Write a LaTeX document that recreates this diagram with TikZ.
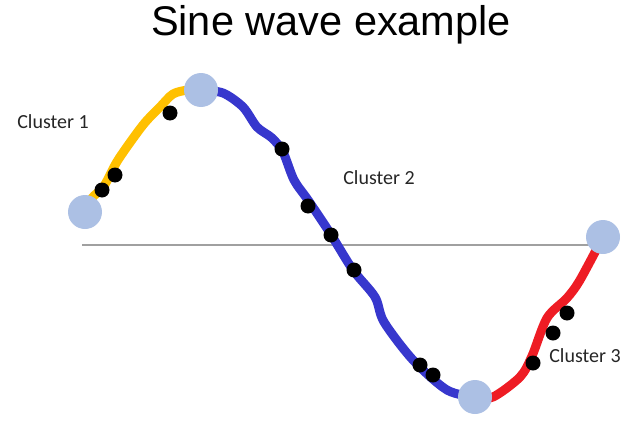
\documentclass[tikz,border=0pt]{standalone}
\usepackage{fontspec}
\setmainfont{Carlito}
\newfontfamily\titlefont{Liberation Sans}
\definecolor{cgold}{RGB}{255,192,0}
\definecolor{cblue}{RGB}{55,55,205}
\definecolor{cred}{RGB}{238,28,36}
\definecolor{cnode}{RGB}{172,192,228}
\definecolor{caxis}{RGB}{160,160,160}
\begin{document}
\begin{tikzpicture}[x=1pt,y=-1pt,
  seg/.style={line width=9pt,line cap=round,line join=round},
  endpt/.style={circle,fill=cnode,minimum size=34pt,inner sep=0pt},
  dot/.style={circle,fill=black,minimum size=15pt,inner sep=0pt},
  lbl/.style={font=\fontsize{20}{23}\selectfont,text=black!85,inner sep=0pt}]
\useasboundingbox (0,0) rectangle (640,431);
\node[font=\titlefont\fontsize{41.5}{45}\selectfont,anchor=base] (title) at (331,35) {Sine wave example};
\coordinate (axl) at (82,245);
\coordinate (axr) at (615,245);
\draw[caxis,line width=2pt] (axl) -- (axr);
\draw[seg,cgold] plot[smooth,tension=0.5] coordinates {(85,212) (92,198) (104,186) (118,160) (143,125) (160,107) (173,94) (188,90) (201,90)};
\draw[seg,cblue] plot[smooth,tension=0.5] coordinates {(201,90) (223,93) (243,107) (257,127) (272,138) (283,152) (294,180) (308,200) (330,233) (353,270) (375,297) (384,322) (413,360) (447,390) (475,397)};
\draw[seg,cred] plot[smooth,tension=0.5] coordinates {(475,397) (493,397) (520,377) (532,356) (547,318) (567,298) (580,280) (603,237)};
\node[endpt] (c1) at (85,212) {};
\node[endpt] (c2) at (201,90) {};
\node[endpt] (c3) at (475,397) {};
\node[endpt] (c4) at (603,237) {};
\foreach \n/\p in {d1/{(102,190)},d2/{(115,175)},d3/{(170,113)},d4/{(282,149)},d5/{(308,206)},d6/{(331,235)},d7/{(354,270)},d8/{(420,365)},d9/{(433,375)},d10/{(533,363)},d11/{(553,333)},d12/{(567,313)}}
  \node[dot] (\n) at \p {};
\node[lbl] (l1) at (53,122) {Cluster 1};
\node[lbl] (l2) at (379,178) {Cluster 2};
\node[lbl] (l3) at (585,356) {Cluster 3};
\end{tikzpicture}
\end{document}
